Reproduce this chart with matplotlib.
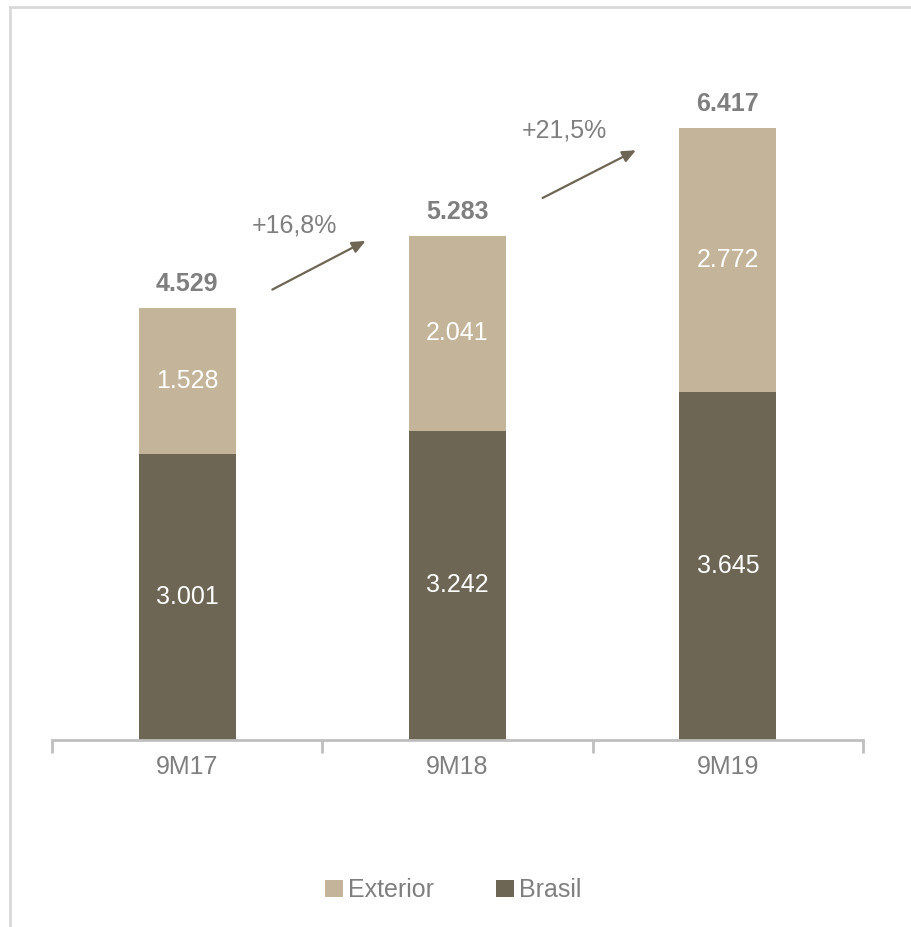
import matplotlib.pyplot as plt
from matplotlib.lines import Line2D

plt.rcParams['font.family'] = ['Liberation Sans', 'DejaVu Sans']

categories = ["9M17", "9M18", "9M19"]
brasil = [3001, 3242, 3645]
exterior = [1528, 2041, 2772]
growth = ["+16,8%", "+21,5%"]
# arrow start / end heights (data units) and label heights
arrow_from = [4720, 5680]
arrow_to = [5230, 6180]
growth_y = [5390, 6390]

dark = "#6E6654"
light = "#C4B59A"
gray = "#7F7F7F"


def fmt(v):
    return f"{v:,}".replace(",", ".")


fig = plt.figure(figsize=(9.12, 9.27), dpi=100)
ax = fig.add_axes([52 / 912, 187 / 927, 811 / 912, 668 / 927])

x = range(len(categories))
ax.bar(x, brasil, width=0.36, color=dark, label="Brasil")
ax.bar(x, exterior, width=0.36, bottom=brasil, color=light, label="Exterior")

totals = [b + e for b, e in zip(brasil, exterior)]
for i in x:
    ax.text(i, brasil[i] / 2, fmt(brasil[i]), ha="center", va="center",
            color="white", fontsize=18)
    ax.text(i, brasil[i] + exterior[i] / 2, fmt(exterior[i]), ha="center",
            va="center", color="white", fontsize=18)
    ax.text(i, totals[i] + 250, fmt(totals[i]), ha="center", va="center",
            color=gray, fontsize=18, fontweight="bold")

# growth arrows between bars
for i, g in enumerate(growth):
    ax.annotate("", xy=(i + 0.66, arrow_to[i]), xytext=(i + 0.315, arrow_from[i]),
                arrowprops=dict(arrowstyle="-|>,head_length=0.8,head_width=0.35",
                                color=dark, lw=1.6, shrinkA=0, shrinkB=0))
    ax.text(i + 0.395, growth_y[i], g, ha="center", va="center",
            color=gray, fontsize=18)

ax.set_xlim(-0.5, 2.5)
ax.set_ylim(0, 7000)
for s in ["top", "right", "left"]:
    ax.spines[s].set_visible(False)
ax.spines["bottom"].set_color("#BFBFBF")
ax.spines["bottom"].set_linewidth(2)
ax.set_yticks([])
ax.set_xticks(list(x))
ax.set_xticklabels(categories, fontsize=18, color=gray)
ax.tick_params(axis="x", which="major", length=0, pad=11)
ax.set_xticks([-0.5, 0.5, 1.5, 2.5], minor=True)
ax.tick_params(axis="x", which="minor", length=9, width=2, color="#BFBFBF")

handles, labels = ax.get_legend_handles_labels()
fig.legend(handles[::-1], labels[::-1], loc="center", bbox_to_anchor=(0.497, 37 / 927),
           ncol=2, frameon=False, fontsize=18, labelcolor=gray,
           handlelength=0.7, handleheight=0.7, handletextpad=0.2, columnspacing=2.5)

# light frame along top and left
fig.add_artist(Line2D([10 / 912, 1], [1 - 7 / 927, 1 - 7 / 927], color="#D9D9D9", lw=2))
fig.add_artist(Line2D([10 / 912, 10 / 912], [0, 1 - 7 / 927], color="#D9D9D9", lw=2))

fig.savefig("out.png", dpi=100)
